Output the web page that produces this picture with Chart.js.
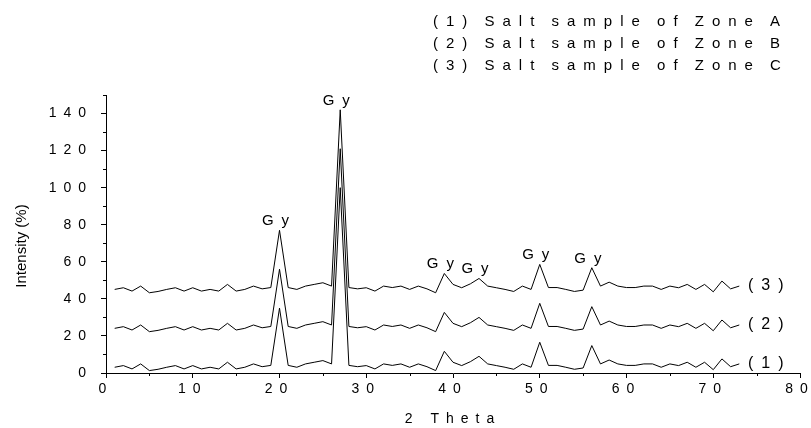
<!DOCTYPE html>
<html>
<head>
<meta charset="utf-8">
<script src="https://cdn.jsdelivr.net/npm/chart.js@4/dist/chart.umd.min.js"></script>
<style>
  html, body { margin: 0; padding: 0; background: #fff; }
  #wrap { width: 811px; height: 428px; position: relative; }
</style>
</head>
<body>
<div id="wrap"><canvas id="xrd-graph"></canvas></div>
<script>
// 2 theta positions of the scan
const theta = [1, 2, 3, 4, 5, 6, 7, 8, 9, 10, 11, 12, 13, 14, 15, 16, 17, 18, 19, 20,
    21, 22, 23, 24, 25, 26, 27, 28, 29, 30, 31, 32, 33, 34, 35, 36, 37, 38, 39, 40,
    41, 42, 43, 44, 45, 46, 47, 48, 49, 50, 51, 52, 53, 54, 55, 56, 57, 58, 59, 60,
    61, 62, 63, 64, 65, 66, 67, 68, 69, 70, 71, 72, 73]

const zoneA = [3.1, 4.0, 2.2, 4.9, 1.3, 2.0, 3.1, 4.0, 2.2, 4.0, 2.2, 3.1, 2.2, 5.8, 2.2, 3.1, 4.9, 3.4, 4.1, 35,
    4.1, 3.1, 4.9, 5.8, 6.7, 4.9, 100, 4.1, 3.4, 4.0, 2.2, 4.9, 4.1, 4.9, 3.1, 4.9, 3.4, 1.3, 11.7, 5.8,
    4.0, 6.1, 9.0, 4.9, 4.0, 3.1, 2.0, 4.9, 3.1, 16.6, 4.1, 4.1, 3.1, 2.0, 2.7, 14.8, 4.9, 7.0, 4.9, 4.1,
    4.1, 4.9, 4.9, 3.1, 4.9, 4.0, 5.8, 3.1, 5.8, 1.8, 7.6, 3.4, 4.9]

const zoneB = [24.1, 25.0, 23.2, 25.9, 22.3, 23.0, 24.1, 25.0, 23.2, 25.0, 23.2, 24.1, 23.2, 26.8, 23.2, 24.1, 25.9, 24.4, 25.1, 56,
    25.1, 24.1, 25.9, 26.8, 27.7, 25.9, 121, 25.1, 24.4, 25.0, 23.2, 25.9, 25.1, 25.9, 24.1, 25.9, 24.4, 22.3, 32.7, 26.8,
    25.0, 27.1, 30.0, 25.9, 25.0, 24.1, 23.0, 25.9, 24.1, 37.6, 25.1, 25.1, 24.1, 23.0, 23.7, 35.8, 25.9, 28.0, 25.9, 25.1,
    25.1, 25.9, 25.9, 24.1, 25.9, 25.0, 26.8, 24.1, 26.8, 22.8, 28.6, 24.4, 25.9]

const zoneC = [45.1, 46.0, 44.2, 46.9, 43.3, 44.0, 45.1, 46.0, 44.2, 46.0, 44.2, 45.1, 44.2, 47.8, 44.2, 45.1, 46.9, 45.4, 46.1, 77,
    46.1, 45.1, 46.9, 47.8, 48.7, 46.9, 142, 46.1, 45.4, 46.0, 44.2, 46.9, 46.1, 46.9, 45.1, 46.9, 45.4, 43.3, 53.7, 47.8,
    46.0, 48.1, 51.0, 46.9, 46.0, 45.1, 44.0, 46.9, 45.1, 58.6, 46.1, 46.1, 45.1, 44.0, 44.7, 56.8, 46.9, 49.0, 46.9, 46.1,
    46.1, 46.9, 46.9, 45.1, 46.9, 46.0, 47.8, 45.1, 47.8, 43.8, 49.6, 45.4, 46.9]

const sampleNames = ['(1) Salt sample of Zone A', '(2) Salt sample of Zone B', '(3) Salt sample of Zone C']
const endLabels = ['(1)', '(2)', '(3)']
const gyPeaks = [20, 27, 39, 43, 50, 56]

const FONT = '"Liberation Sans", Arial, sans-serif'

function spacedText(ctx, text, x, y, size, spacing, align, baseline, wordGap = 0){
    ctx.save()
    ctx.font = size + 'px ' + FONT
    ctx.letterSpacing = spacing + 'px'
    ctx.wordSpacing = wordGap + 'px'
    ctx.fillStyle = '#000'
    ctx.textAlign = align
    ctx.textBaseline = baseline
    ctx.fillText(text, x, y)
    ctx.restore()
}

const xrdExtras = {
    id: 'xrdExtras',
    beforeDraw(chart){
        chart.ctx.letterSpacing = '7px'
    },
    afterDraw(chart){
        const { ctx, chartArea, scales: { x, y } } = chart

        // minor ticks
        ctx.save()
        ctx.letterSpacing = '0px'
        ctx.strokeStyle = '#000'
        ctx.lineWidth = 1
        ctx.beginPath()
        for (let v = 5; v < 80; v += 10) {
            let px = Math.round(x.getPixelForValue(v)) + 0.5
            ctx.moveTo(px, chartArea.bottom)
            ctx.lineTo(px, chartArea.bottom + 3)
        }
        for (let v = 10; v <= 150; v += 20) {
            let py = Math.round(y.getPixelForValue(v)) + 0.5
            ctx.moveTo(chartArea.left, py)
            ctx.lineTo(chartArea.left - 3, py)
        }
        ctx.stroke()

        // y axis title, no letter spacing
        ctx.translate(22, (chartArea.top + chartArea.bottom) / 2 + 12)
        ctx.rotate(-Math.PI / 2)
        ctx.font = '15px ' + FONT
        ctx.fillStyle = '#000'
        ctx.textAlign = 'center'
        ctx.textBaseline = 'middle'
        ctx.fillText('Intensity (%)', 0, 0)
        ctx.restore()

        // sample list top right
        sampleNames.forEach((name, i) => {
            spacedText(ctx, name, 433, 26 + i * 22, 15, 8, 'left', 'alphabetic', -3)
        })

        // (1) (2) (3) at end of curves
        ;[zoneA, zoneB, zoneC].forEach((series, i) => {
            let last = series[series.length - 1]
            spacedText(ctx, endLabels[i], x.getPixelForValue(74), y.getPixelForValue(last), 16, 8, 'left', 'middle')
        })

        // Gy peak marks
        gyPeaks.forEach(t => {
            let idx = theta.indexOf(t)
            spacedText(ctx, 'Gy', x.getPixelForValue(t), y.getPixelForValue(zoneC[idx]) - 5, 15, 8, 'center', 'alphabetic')
        })
    }
}

function makeSeries(values){
    return theta.map((t, i) => ({ x: t, y: values[i] }))
}

const ctx = document.getElementById('xrd-graph').getContext('2d')
const xrdChart = new Chart(ctx, {
    type: 'line',
    data: {
        datasets: [zoneA, zoneB, zoneC].map((values, i) => ({
            label: sampleNames[i],
            data: makeSeries(values),
            borderColor: '#000',
            borderWidth: 1,
            pointRadius: 0,
            tension: 0,
            fill: false,
        }))
    },
    options: {
        responsive: true,
        maintainAspectRatio: false,
        devicePixelRatio: 1,
        animation: false,
        layout: { padding: { left: 0, right: 11, top: 95, bottom: 0 } },
        plugins: {
            legend: { display: false },
            tooltip: { enabled: false },
        },
        scales: {
            x: {
                type: 'linear',
                min: 0,
                max: 80,
                afterFit: scale => { scale.height = 55 },
                border: { display: true, color: '#000', width: 1 },
                grid: { drawOnChartArea: false, drawTicks: true, tickLength: 5, color: '#000' },
                ticks: {
                    stepSize: 10,
                    color: '#000',
                    padding: 3,
                    maxRotation: 0,
                    autoSkip: false,
                    font: { family: FONT, size: 14 },
                },
                title: {
                    display: true,
                    text: '2 Theta',
                    color: '#000',
                    font: { family: FONT, size: 14 },
                    padding: { top: 2, bottom: 0 },
                },
            },
            y: {
                min: 0,
                max: 150,
                afterFit: scale => { scale.width = 106 },
                border: { display: true, color: '#000', width: 1 },
                grid: { drawOnChartArea: false, drawTicks: true, tickLength: 5, color: '#000' },
                ticks: {
                    stepSize: 20,
                    includeBounds: false,
                    color: '#000',
                    padding: 8,
                    autoSkip: false,
                    font: { family: FONT, size: 14 },
                },
            },
        },
    },
    plugins: [xrdExtras],
})
</script>
</body>
</html>
